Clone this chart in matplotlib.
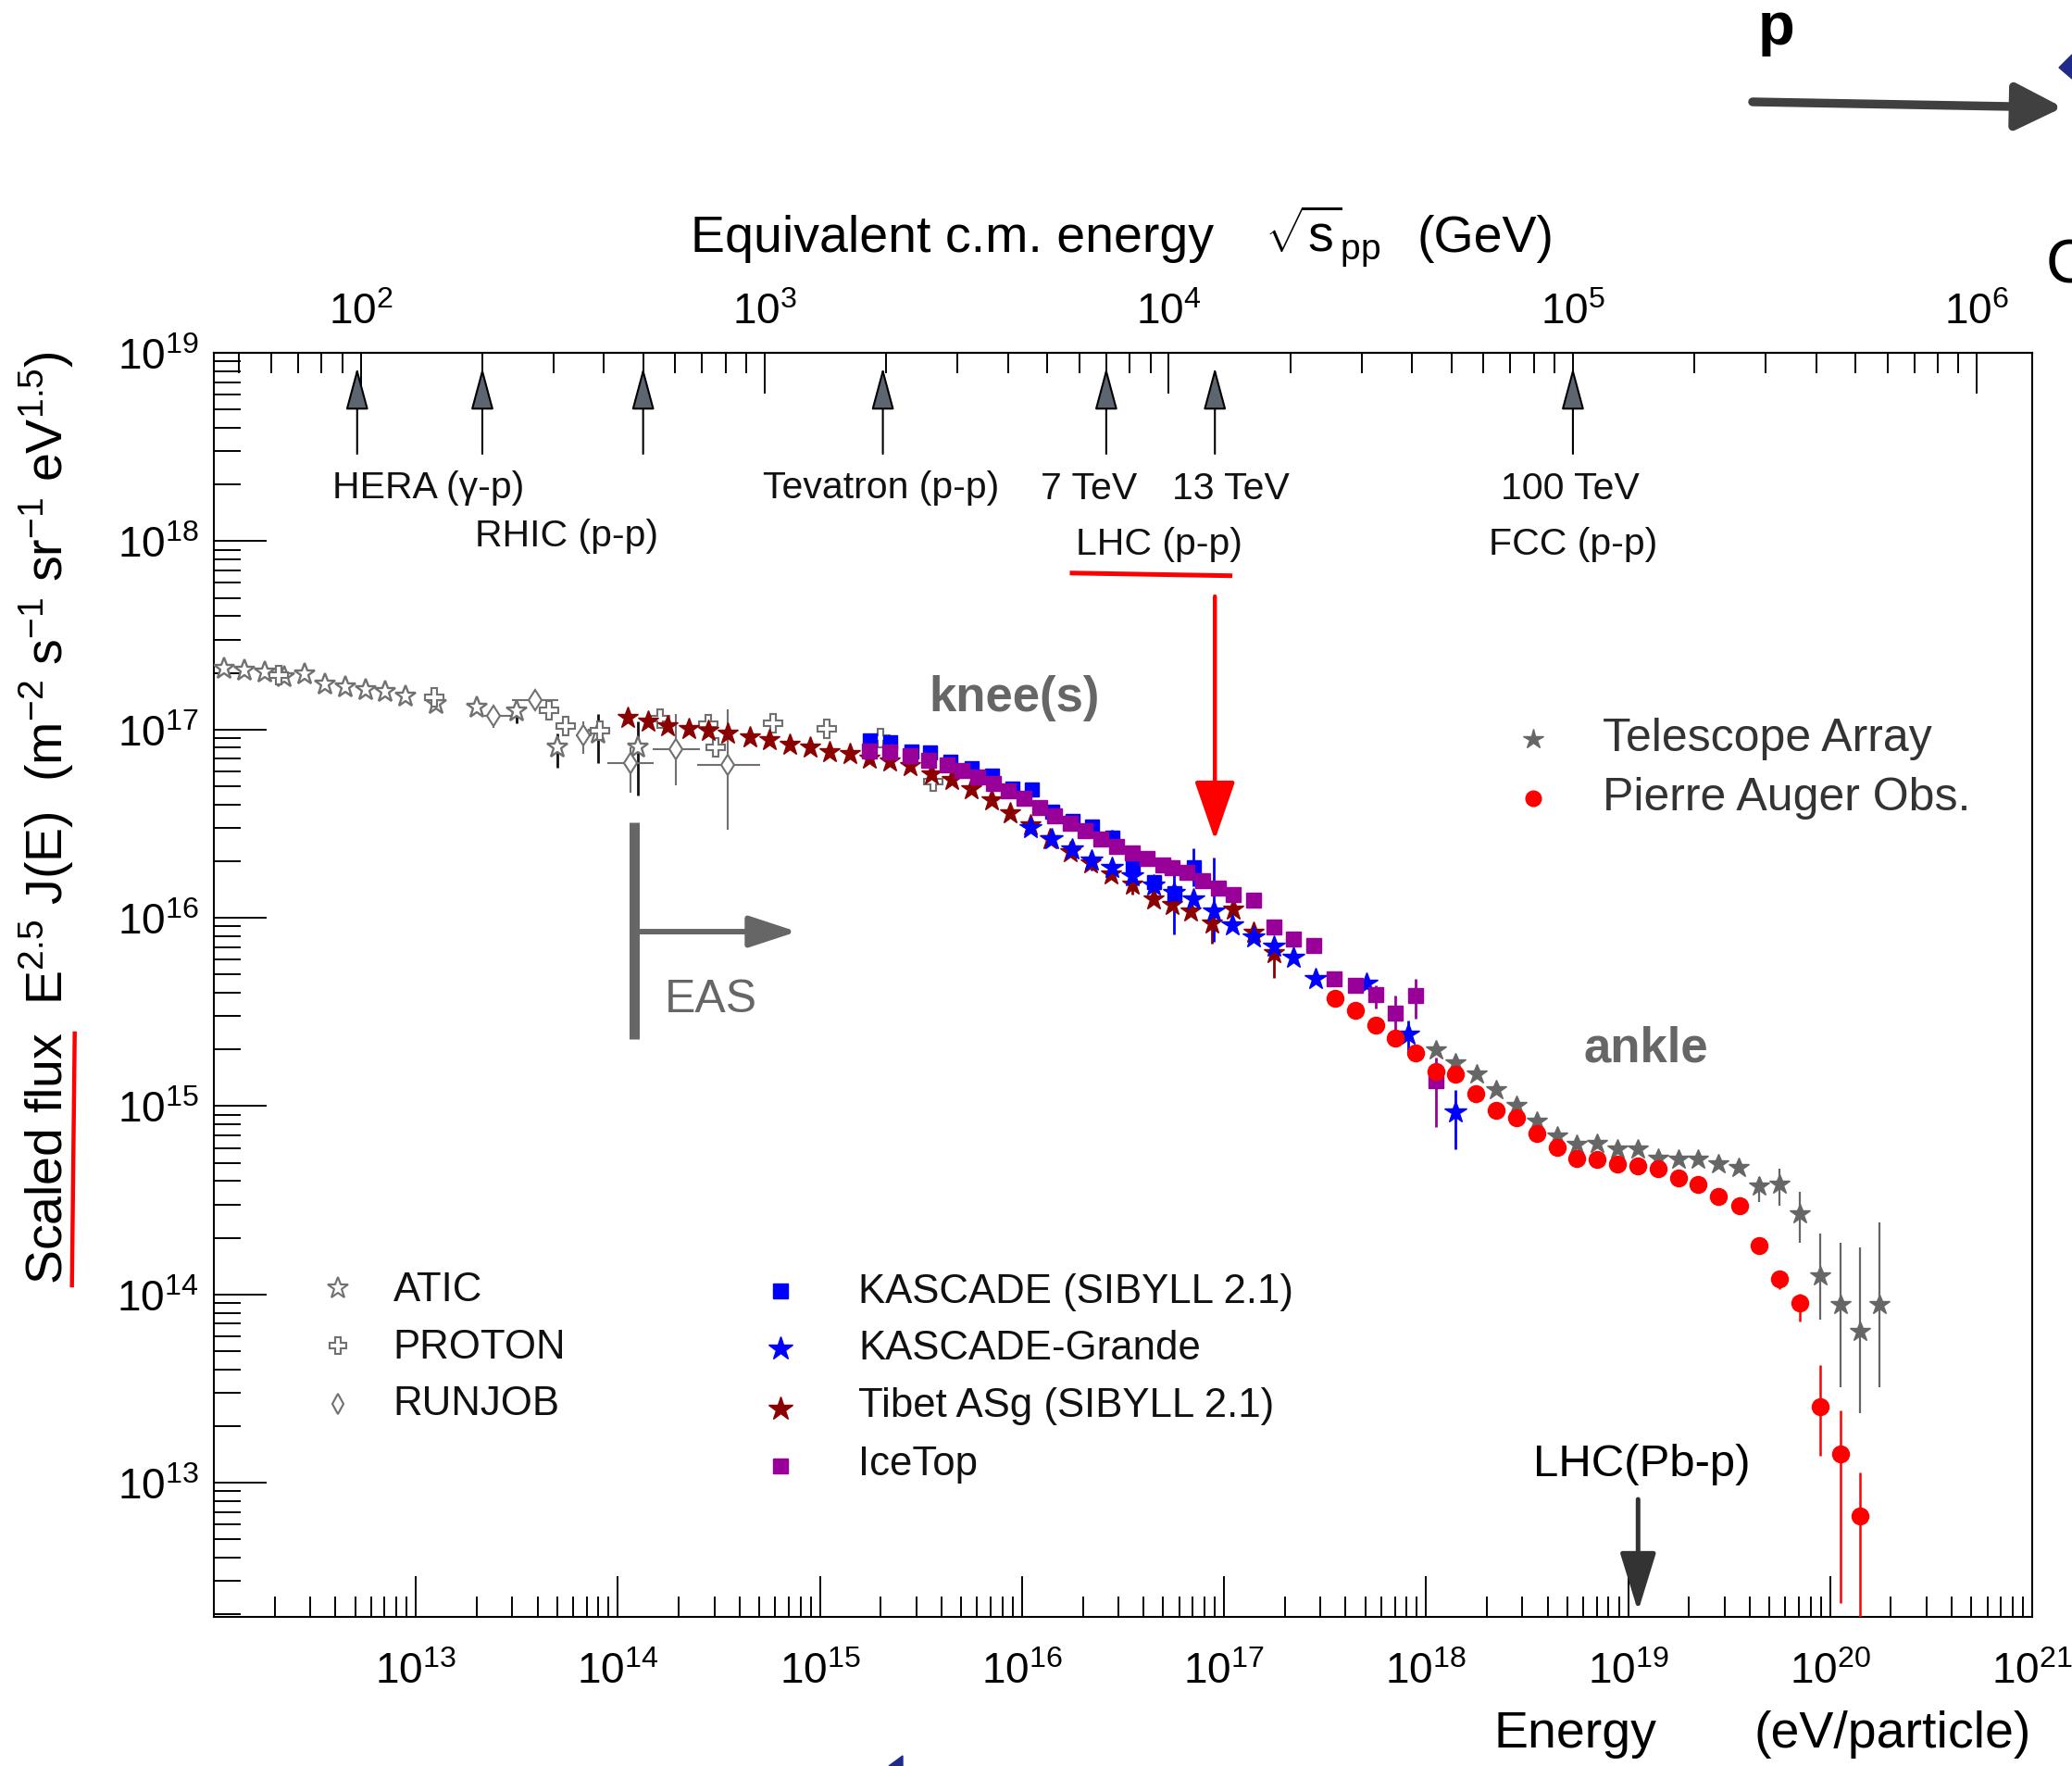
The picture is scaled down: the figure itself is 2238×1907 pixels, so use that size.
import numpy as np
import matplotlib
matplotlib.use("Agg")
import matplotlib.pyplot as plt
from matplotlib.lines import Line2D
from matplotlib.patches import Polygon
from matplotlib.ticker import FixedLocator, LogLocator, NullFormatter, LogFormatterSciNotation

plt.rcParams['font.family'] = ['Liberation Sans', 'DejaVu Sans']
plt.rcParams['mathtext.fontset'] = 'custom'
plt.rcParams['mathtext.rm'] = 'Liberation Sans'
plt.rcParams['mathtext.it'] = 'Liberation Sans:italic'
plt.rcParams['mathtext.bf'] = 'Liberation Sans:bold'
plt.rcParams['axes.linewidth'] = 1.5

# ---- data: log10(E / eV) and log10(E^2.5 J(E)) ----
atic_lgE = [12.05, 12.15, 12.25, 12.35, 12.45, 12.55, 12.65, 12.75, 12.85, 12.95,
            13.10, 13.30, 13.50, 13.70, 13.90, 14.10]
atic_lgF = [17.325, 17.314, 17.302, 17.281, 17.292, 17.240, 17.224, 17.212, 17.199, 17.178,
            17.137, 17.117, 17.096, 16.904, 16.978, 16.907]
atic_err_lgE = [13.50, 13.70, 13.90, 14.10]
atic_err_lo = [17.035, 16.798, 16.822, 16.650]
atic_err_hi = [17.110, 16.978, 17.084, 17.043]

proton_lgE = [12.32, 13.09, 13.66, 13.74, 13.91, 14.21, 14.445, 14.483, 14.766, 15.033, 15.300, 15.560]
proton_lgF = [17.289, 17.171, 17.101, 17.019, 16.994, 17.060, 17.027, 16.904, 17.035, 17.002, 16.953, 16.724]

runjob_lgE = [13.384, 13.591, 13.827, 14.064, 14.285, 14.544]
runjob_lgF = [17.071, 17.158, 16.970, 16.822, 16.896, 16.814]
runjob_xlo = [13.34, 13.476, 13.79, 13.949, 14.170, 14.392]
runjob_xhi = [13.49, 13.705, 13.87, 14.178, 14.404, 14.705]
runjob_ylo = [17.010, 17.130, 16.872, 16.666, 16.704, 16.470]
runjob_yhi = [17.127, 17.190, 17.043, 16.906, 17.080, 17.109]

tibet_lgE = [14.048, 14.147, 14.247, 14.353, 14.445, 14.544, 14.651, 14.750, 14.849, 14.949,
             15.048, 15.147, 15.246, 15.346, 15.445, 15.552, 15.651, 15.750, 15.849, 15.941,
             16.04, 16.14, 16.24, 16.34, 16.44, 16.544, 16.651, 16.745, 16.834, 16.941,
             17.047, 17.147, 17.246]
tibet_lgF = [17.063, 17.043, 17.019, 17.002, 16.994, 16.978, 16.961, 16.945, 16.920, 16.904,
             16.880, 16.871, 16.847, 16.830, 16.806, 16.765, 16.732, 16.683, 16.625, 16.555,
             16.49, 16.42, 16.35, 16.29, 16.23, 16.175, 16.101, 16.07, 16.035, 15.970,
             16.044, 15.921, 15.814]
tibet_err_lgE = [16.544, 16.941, 17.246]
tibet_err_lo = [16.125, 15.863, 15.683]
tibet_err_hi = [16.273, 16.026, 15.870]

kascade_lgE = [15.246, 15.346, 15.452, 15.544, 15.643, 15.750, 15.849, 15.948, 16.048, 16.147,
               16.246, 16.345, 16.444, 16.544, 16.651, 16.750, 16.849]
kascade_lgF = [16.945, 16.937, 16.887, 16.880, 16.830, 16.797, 16.757, 16.691, 16.683, 16.568,
               16.519, 16.486, 16.429, 16.280, 16.191, 16.134, 16.273]
kascade_err_lgE = [16.444, 16.544, 16.849]
kascade_err_lo = [16.400, 16.250, 16.170]
kascade_err_hi = [16.470, 16.340, 16.370]

grande_lgE = [16.040, 16.147, 16.246, 16.345, 16.444, 16.544, 16.651, 16.750, 16.849, 16.948,
              17.040, 17.147, 17.246, 17.345, 17.452, 17.704, 17.910, 18.146]
grande_lgF = [16.478, 16.420, 16.363, 16.306, 16.265, 16.224, 16.173, 16.134, 16.101, 16.035,
              15.962, 15.896, 15.847, 15.790, 15.675, 15.650, 15.380, 14.970]
grande_err_lgE = [16.345, 16.750, 16.948, 17.910, 18.146]
grande_err_lo = [16.250, 15.910, 15.872, 15.288, 14.772]
grande_err_hi = [16.340, 16.306, 16.322, 15.455, 15.087]

icetop_lgE = [15.246, 15.346, 15.445, 15.536, 15.628, 15.704, 15.781, 15.857, 15.933, 16.010,
              16.086, 16.162, 16.239, 16.314, 16.391, 16.468, 16.544, 16.620, 16.697, 16.742,
              16.818, 16.895, 16.971, 17.047, 17.146, 17.246, 17.345, 17.444, 17.543, 17.650,
              17.750, 17.849, 17.948, 18.047]
icetop_lgF = [16.887, 16.880, 16.860, 16.838, 16.811, 16.781, 16.748, 16.715, 16.675, 16.634,
              16.585, 16.543, 16.502, 16.462, 16.420, 16.380, 16.347, 16.314, 16.281, 16.265,
              16.240, 16.199, 16.158, 16.125, 16.093, 15.953, 15.888, 15.855, 15.675, 15.642,
              15.593, 15.495, 15.585, 15.134]
icetop_err_lgE = [17.750, 17.849, 17.948, 18.047]
icetop_err_lo = [15.519, 15.405, 15.462, 14.890]
icetop_err_hi = [15.642, 15.585, 15.675, 15.259]

ta_lgE = [18.047, 18.146, 18.249, 18.348, 18.448, 18.548, 18.647, 18.746, 18.848, 18.947,
          19.047, 19.149, 19.248, 19.347, 19.448, 19.547, 19.646, 19.748, 19.849, 19.952,
          20.050, 20.147, 20.245]
ta_lgF = [15.298, 15.228, 15.167, 15.085, 15.003, 14.921, 14.839, 14.798, 14.801, 14.773,
          14.773, 14.724, 14.716, 14.716, 14.692, 14.675, 14.575, 14.583, 14.425, 14.096,
          13.943, 13.800, 13.943]
ta_err_lgE = [19.646, 19.748, 19.849, 19.952, 20.050, 20.147, 20.245]
ta_err_lo = [14.492, 14.469, 14.272, 13.866, 13.508, 13.372, 13.508]
ta_err_hi = [14.624, 14.669, 14.546, 14.326, 14.272, 14.251, 14.382]

auger_lgE = [17.548, 17.650, 17.750, 17.849, 17.948, 18.047, 18.146, 18.245, 18.348, 18.448,
             18.548, 18.647, 18.746, 18.848, 18.947, 19.047, 19.149, 19.248, 19.347, 19.448,
             19.550, 19.646, 19.748, 19.849, 19.952, 20.050, 20.147]
auger_lgF = [15.572, 15.511, 15.429, 15.363, 15.282, 15.183, 15.167, 15.068, 14.978, 14.938,
             14.855, 14.782, 14.724, 14.716, 14.692, 14.683, 14.667, 14.618, 14.585, 14.520,
             14.470, 14.261, 14.081, 13.953, 13.405, 13.153, 12.823]
auger_err_lgE = [19.748, 19.849, 19.952, 20.050, 20.147]
auger_err_lo = [14.030, 13.854, 13.141, 12.363, 12.000]
auger_err_hi = [14.118, 14.006, 13.626, 13.383, 13.054]

# collider energies marked on the top axis (sqrt(s) in GeV)
collider_sqrts = [98, 200, 500, 1960, 7000, 13000, 100000]
lhc13_sqrts = 13000
lhc_pbp_E = 1.12e19
eas_E = 1.2e14
eas_arrow_E = 7.7e14

M_P = 0.938  # proton mass, GeV


def e_to_sqrts(e):
    e = np.asarray(e, dtype=float)
    return np.sqrt(2.0 * M_P * np.maximum(e, 1e-300) / 1e9)


def sqrts_to_e(s):
    s = np.asarray(s, dtype=float)
    return s ** 2 / (2.0 * M_P) * 1e9


def pw(a):
    return 10.0 ** np.asarray(a, dtype=float)


W, H = 2238, 1908
fig = plt.figure(figsize=(W / 100, H / 100), dpi=100)
fig.patch.set_facecolor('white')
ax = fig.add_axes([231 / W, 1 - 1747 / H, 1964 / W, 1365 / H])
ax.set_xscale('log')
ax.set_yscale('log')
ax.set_xlim(1e12, 1e21)
ax.set_ylim(1.94e12, 1e19)

ax.xaxis.set_major_locator(FixedLocator(10.0 ** np.arange(13, 22)))
ax.xaxis.set_minor_locator(LogLocator(base=10, subs=np.arange(2, 10), numticks=100))
ax.xaxis.set_major_formatter(LogFormatterSciNotation())
ax.xaxis.set_minor_formatter(NullFormatter())
ax.yaxis.set_major_locator(LogLocator(base=10, numticks=100))
ax.yaxis.set_minor_locator(LogLocator(base=10, subs=np.arange(2, 10), numticks=100))
ax.yaxis.set_minor_formatter(NullFormatter())
ax.tick_params(axis='x', which='major', direction='in', length=31.7, width=1.4,
               labelsize=33, pad=27, top=False)
ax.tick_params(axis='x', which='minor', direction='in', length=15.8, width=1.4, top=False)
ax.tick_params(axis='y', which='major', direction='in', length=41, width=1.4,
               labelsize=33, pad=12, right=False)
ax.tick_params(axis='y', which='minor', direction='in', length=21, width=1.4, right=False)

top = ax.secondary_xaxis('top', functions=(e_to_sqrts, sqrts_to_e))
top.xaxis.set_major_locator(LogLocator(base=10, numticks=100))
top.xaxis.set_minor_locator(LogLocator(base=10, subs=np.arange(2, 10), numticks=100))
top.xaxis.set_minor_formatter(NullFormatter())
top.tick_params(which='major', direction='in', length=31.7, width=1.4, labelsize=33, pad=16)
top.tick_params(which='minor', direction='in', length=15.8, width=1.4)

grey = '#707070'

# error bars
ax.vlines(pw(atic_err_lgE), pw(atic_err_lo), pw(atic_err_hi), colors='#111111', lw=2.0, zorder=2)
ax.vlines(pw(runjob_lgE), pw(runjob_ylo), pw(runjob_yhi), colors=grey, lw=1.5, zorder=2)
ax.hlines(pw(runjob_lgF), pw(runjob_xlo), pw(runjob_xhi), colors=grey, lw=1.5, zorder=2)
ax.vlines(pw(tibet_err_lgE), pw(tibet_err_lo), pw(tibet_err_hi), colors='#8b0000', lw=2.0, zorder=3)
ax.vlines(pw(kascade_err_lgE), pw(kascade_err_lo), pw(kascade_err_hi), colors='#0000ff', lw=2.0, zorder=3)
ax.vlines(pw(grande_err_lgE), pw(grande_err_lo), pw(grande_err_hi), colors='#0000ff', lw=2.0, zorder=3)
ax.vlines(pw(icetop_err_lgE), pw(icetop_err_lo), pw(icetop_err_hi), colors='#990099', lw=2.0, zorder=3)
ax.vlines(pw(ta_err_lgE), pw(ta_err_lo), pw(ta_err_hi), colors='#666666', lw=1.6, zorder=3)
ax.vlines(pw(auger_err_lgE), pw(auger_err_lo), pw(auger_err_hi), colors='#ff0000', lw=1.8, zorder=3)

# data series
ax.plot(pw(atic_lgE), pw(atic_lgF), ls='none', marker='*', ms=17, mfc='white', mec=grey, mew=1.7, zorder=4)
ax.plot(pw(proton_lgE), pw(proton_lgF), ls='none', marker='P', ms=15, mfc='white', mec=grey, mew=1.5, zorder=4)
ax.plot(pw(runjob_lgE), pw(runjob_lgF), ls='none', marker='d', ms=11.5, mfc='white', mec=grey, mew=1.5, zorder=4)
ax.plot(pw(tibet_lgE), pw(tibet_lgF), ls='none', marker='*', ms=17, color='#8b0000', mec='#8b0000', zorder=5)
ax.plot(pw(kascade_lgE), pw(kascade_lgF), ls='none', marker='s', ms=10.8, color='#0000ff', zorder=6)
ax.plot(pw(grande_lgE), pw(grande_lgF), ls='none', marker='*', ms=17.5, color='#0000ff', zorder=6)
ax.plot(pw(icetop_lgE), pw(icetop_lgF), ls='none', marker='s', ms=11.5, color='#990099', zorder=7)
ax.plot(pw(ta_lgE), pw(ta_lgF), ls='none', marker='*', ms=16.5, color='#666666', zorder=7)
ax.plot(pw(auger_lgE), pw(auger_lgF), ls='none', marker='o', ms=13, color='#ff0000', zorder=8)

# collider arrows under the top axis
xa = ('data', 'axes fraction')
for s in collider_sqrts:
    e = float(sqrts_to_e(s))
    ax.annotate('', xy=(e, 0.9883), xytext=(e, 0.9201), xycoords=xa, textcoords=xa,
                arrowprops=dict(arrowstyle='-|>,head_length=29,head_width=7.8', mutation_scale=1,
                                lw=1.5, fc='#5d6670', ec='black', shrinkA=0, shrinkB=0))

top_labels = [('HERA (γ-p)', 0.1181, 0.8859), ('RHIC (p-p)', 0.1942, 0.8479),
              ('Tevatron (p-p)', 0.3670, 0.8859), ('7 TeV', 0.4812, 0.8850),
              ('13 TeV', 0.5594, 0.8850), ('LHC (p-p)', 0.5199, 0.8410),
              ('100 TeV', 0.7459, 0.8850), ('FCC (p-p)', 0.7473, 0.8410)]
for txt, x, y in top_labels:
    ax.text(x, y, txt, transform=ax.transAxes, ha='center', va='baseline', fontsize=29.5,
            color='#111111')

# LHC 13 TeV pointer
e13 = float(sqrts_to_e(lhc13_sqrts))
ax.annotate('', xy=(e13, 0.6147), xytext=(e13, 0.8073), xycoords=xa, textcoords=xa,
            arrowprops=dict(arrowstyle='-|>,head_length=39.6,head_width=13.7', mutation_scale=1,
                            lw=3.2, color='#ff0000', shrinkA=0, shrinkB=0), zorder=9)

# EAS threshold marker
ax.plot([eas_E, eas_E], [0.6286, 0.4571], transform=ax.get_xaxis_transform(),
        color='#666666', lw=7.9, solid_capstyle='butt', zorder=3)
ax.annotate('', xy=(eas_arrow_E, 0.5421), xytext=(eas_E, 0.5421), xycoords=xa, textcoords=xa,
            arrowprops=dict(arrowstyle='-|>,head_length=31.7,head_width=10.4', mutation_scale=1,
                            lw=4.3, color='#666666', shrinkA=0, shrinkB=0))
ax.text(0.2734, 0.4791, 'EAS', transform=ax.transAxes, ha='center', va='baseline',
        fontsize=36, color='#666666')

ax.text(0.4403, 0.7172, 'knee(s)', transform=ax.transAxes, ha='center', va='baseline',
        fontsize=38, fontweight='bold', color='#666666')
ax.text(0.7877, 0.4398, 'ankle', transform=ax.transAxes, ha='center', va='baseline',
        fontsize=38, fontweight='bold', color='#666666')

# LHC p-Pb pointer
ax.annotate('', xy=(lhc_pbp_E, 0.0044), xytext=(lhc_pbp_E, 0.0930), xycoords=xa, textcoords=xa,
            arrowprops=dict(arrowstyle='-|>,head_length=39,head_width=12', mutation_scale=1,
                            lw=3.6, color='#333333', shrinkA=0, shrinkB=0), zorder=9)
ax.text(0.7851, 0.1122, 'LHC(Pb-p)', transform=ax.transAxes, ha='center', va='baseline',
        fontsize=35.4, color='black')

# legends
leg_left = [('ATIC', '*', 0.2603, 0.2505, dict(ms=17, mfc='white', mec=grey, mew=1.5)),
            ('PROTON', 'P', 0.2147, 0.2054, dict(ms=13, mfc='white', mec=grey, mew=1.5)),
            ('RUNJOB', 'd', 0.1687, 0.1602, dict(ms=11, mfc='white', mec=grey, mew=1.5))]
for txt, m, ym, yt, kw in leg_left:
    ax.plot([0.0681], [ym], transform=ax.transAxes, marker=m, ls='none', clip_on=False, **kw)
    ax.text(0.0985, yt, txt, transform=ax.transAxes, ha='left', va='baseline', fontsize=31.5,
            color='#111111')

leg_mid = [('KASCADE (SIBYLL 2.1)', 's', 0.2579, 0.2493, dict(ms=12, color='#0000ff')),
           ('KASCADE-Grande', '*', 0.2127, 0.2042, dict(ms=19, color='#0000ff')),
           ('Tibet ASg (SIBYLL 2.1)', '*', 0.1651, 0.1590, dict(ms=19, color='#8b0000')),
           ('IceTop', 's', 0.1194, 0.1126, dict(ms=12, color='#990099'))]
for txt, m, ym, yt, kw in leg_mid:
    ax.plot([0.3116], [ym], transform=ax.transAxes, marker=m, ls='none', clip_on=False, **kw)
    ax.text(0.3544, yt, txt, transform=ax.transAxes, ha='left', va='baseline', fontsize=31.5,
            color='#111111')

leg_right = [('Telescope Array', '*', 0.6943, 0.6859, dict(ms=16, color='#666666')),
             ('Pierre Auger Obs.', 'o', 0.6473, 0.6388, dict(ms=12, color='#ff0000'))]
for txt, m, ym, yt, kw in leg_right:
    ax.plot([0.7254], [ym], transform=ax.transAxes, marker=m, ls='none', clip_on=False, **kw)
    ax.text(0.7637, yt, txt, transform=ax.transAxes, ha='left', va='baseline', fontsize=36,
            color='#333333')


def fxy(X, Y):
    return X / W, 1 - Y / H


# axis titles
fig.text(*fxy(746, 271.6), 'Equivalent c.m. energy', fontsize=40, ha='left', va='baseline')
fig.text(*fxy(1366, 271.6), r'$\sqrt{\mathrm{s}}_{\mathrm{pp}}$', fontsize=40, ha='left', va='baseline')
fig.text(*fxy(1530, 271.6), '(GeV)', fontsize=40, ha='left', va='baseline')
fig.text(*fxy(1701, 1886.7), 'Energy', fontsize=40, ha='center', va='baseline')
fig.text(*fxy(2194, 1886.7), '(eV/particle)', fontsize=40, ha='right', va='baseline')
fig.text(*fxy(68, 883),
         r'Scaled flux  E$^{2.5}$ J(E)  (m$^{-2}$ s$^{-1}$ sr$^{-1}$ eV$^{1.5}$)',
         fontsize=40, rotation=90, rotation_mode='anchor', ha='center', va='baseline')

# red underlines
fig.add_artist(Line2D([80.7 / W, 77.7 / W], [1 - 1117 / H, 1 - 1389 / H],
                      transform=fig.transFigure, color='#ff0000', lw=3.2))
fig.add_artist(Line2D([1158 / W, 1328.6 / W], [1 - 619.8 / H, 1 - 622.7 / H],
                      transform=fig.transFigure, color='#ff0000', lw=3.6))

# neighbouring panel fragments at the top right
fig.text(*fxy(1919, 48), 'p', fontsize=47, fontweight='bold', ha='center', va='baseline')
ax.annotate('', xy=(2228, H - 117), xytext=(1893, H - 111), xycoords='figure pixels',
            textcoords='figure pixels', annotation_clip=False,
            arrowprops=dict(arrowstyle='-|>,head_length=31,head_width=15.5', mutation_scale=1,
                            lw=6.8, color='#404040', shrinkA=0, shrinkB=0))
fig.text(*fxy(2210, 305), 'C', fontsize=48, ha='left', va='baseline')
fig.add_artist(Polygon([fxy(2238, 60), fxy(2224, 74), fxy(2238, 86)], closed=True,
                       transform=fig.transFigure, color='#1f2a8a'))
fig.add_artist(Polygon([fxy(960, 1908), fxy(975, 1897), fxy(975, 1908)], closed=True,
                       transform=fig.transFigure, color='#1f2a8a'))

fig.savefig('out.png', dpi=100, facecolor='white')
